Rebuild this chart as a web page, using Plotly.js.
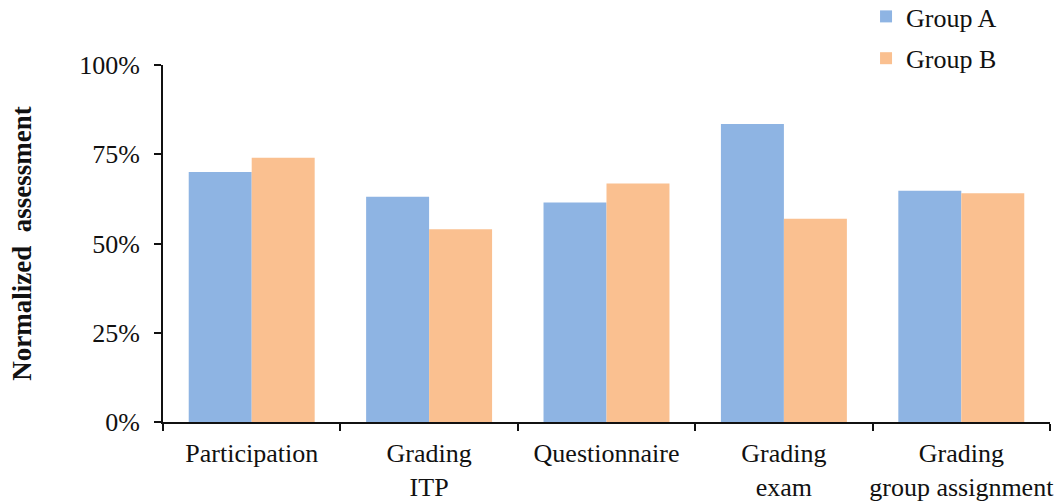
<!DOCTYPE html>
<html>
<head>
<meta charset="utf-8">
<script src="https://cdn.plot.ly/plotly-3.0.1.min.js"></script>
<style>
  html, body { margin: 0; padding: 0; background: #fff; }
  #chart { width: 1063px; height: 502px; }
</style>
</head>
<body>
<div id="chart"></div>
<script>
// Assessment categories (x axis) and their two-line tick labels
const categories = ['Participation', 'Grading ITP', 'Questionnaire', 'Grading exam', 'Grading group assignment'];
const tickLabels = ['Participation', 'Grading<br>ITP', 'Questionnaire', 'Grading<br>exam', 'Grading<br>group assignment'];

// Normalized assessment per group (fraction of 1)
const groupA = [0.70, 0.631, 0.615, 0.835, 0.648];
const groupB = [0.740, 0.540, 0.668, 0.569, 0.641];

// Y axis ticks
const yTicks = [0, 0.25, 0.5, 0.75, 1];
const yTickText = ['0%', '25%', '50%', '75%', '100%'];

const serif = 'Liberation Serif, Times New Roman, serif';

const traces = [
  {
    type: 'bar', name: 'Group A', x: categories, y: groupA,
    marker: { color: '#8EB4E3' }, legendgroup: 'a'
  },
  {
    type: 'bar', name: 'Group B', x: categories, y: groupB,
    marker: { color: '#FAC090' }, legendgroup: 'b'
  }
];

const layout = {
  width: 1063, height: 502,
  margin: { l: 163, r: 13, t: 65, b: 80, autoexpand: false },
  paper_bgcolor: '#ffffff', plot_bgcolor: '#ffffff',
  font: { family: serif, size: 26, color: '#111111' },
  barmode: 'group', bargap: 0.29, bargroupgap: 0,
  showlegend: true,
  legend: {
    x: 0.7926, xanchor: 'left', y: 1.2017, yanchor: 'top',
    font: { family: serif, size: 26, color: '#111111' },
    bgcolor: 'rgba(0,0,0,0)', tracegroupgap: 5
  },
  xaxis: {
    type: 'category',
    tickvals: categories, ticktext: tickLabels, tickangle: 0,
    tickson: 'boundaries', ticks: 'outside', ticklen: 7, tickwidth: 2, tickcolor: '#111111',
    showline: true, linecolor: '#111111', linewidth: 2,
    showgrid: false, zeroline: false,
    ticklabelstandoff: 7,
    tickfont: { family: serif, size: 26, color: '#111111' },
    automargin: false
  },
  yaxis: {
    range: [0, 1],
    tickvals: yTicks, ticktext: yTickText,
    ticks: 'outside', ticklen: 7, tickwidth: 2, tickcolor: '#111111',
    showline: true, linecolor: '#111111', linewidth: 2,
    showgrid: false, zeroline: false,
    ticklabelstandoff: 9,
    tickfont: { family: serif, size: 26, color: '#111111' },
    title: {
      text: 'Normalized  assessment', standoff: 40,
      font: { family: serif, size: 27, color: '#111111', weight: 'bold' }
    },
    automargin: false
  }
};

Plotly.newPlot('chart', traces, layout, { displayModeBar: false, staticPlot: true });
</script>
</body>
</html>
